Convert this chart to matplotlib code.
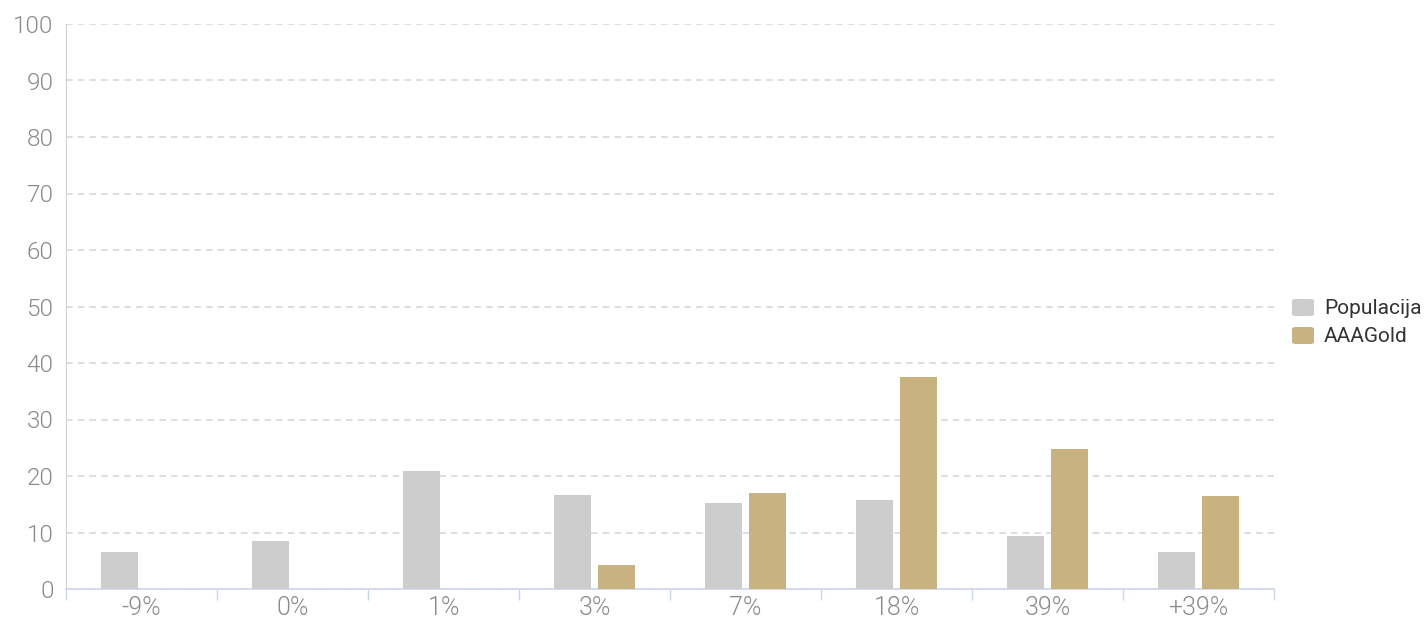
import matplotlib
matplotlib.use("Agg")
import matplotlib.pyplot as plt
import numpy as np
from matplotlib.patches import FancyBboxPatch

categories = ["-9%", "0%", "1%", "3%", "7%", "18%", "39%", "+39%"]
populacija = [6.5, 8.5, 20.9, 16.6, 15.2, 15.7, 9.4, 6.5]
aaagold = [0, 0, 0, 4.2, 17.0, 37.5, 24.8, 16.5]
series_names = ["Populacija", "AAAGold"]
colors = ["#cdcdcd", "#c8b380"]
yticks = list(range(0, 101, 10))

plt.rcParams['font.family'] = ['Roboto', 'DejaVu Sans']

W, H = 1426, 621
fig = plt.figure(figsize=(W / 100, H / 100), dpi=100)
ax = fig.add_axes([66 / W, (H - 589) / H, (1274 - 66) / W, (589 - 24) / H])

x = np.arange(len(categories))
bw = 0.245
off = 0.148
ax.bar(x - off, populacija, width=bw, color=colors[0], zorder=3)
ax.bar(x + off, aaagold, width=bw, color=colors[1], zorder=3)

ax.set_xlim(-0.5, len(categories) - 0.5)
ax.set_ylim(0, 100)
ax.set_yticks(yticks)
ax.set_yticklabels([str(t) for t in yticks], fontsize=17.5, color="#8a8a8a", fontweight=300)
ax.yaxis.grid(True, color="#d8d8d8", linestyle=(0, (4, 3)), linewidth=1.2, zorder=0)
ax.tick_params(axis="y", length=0, pad=9)

ax.set_xticks(x)
ax.set_xticklabels(categories, fontsize=18, color="#8a8a8a", fontweight=300)
ax.tick_params(axis="x", which="major", length=0, pad=5)
ax.set_xticks(np.arange(-0.5, len(categories)), minor=True)
ax.tick_params(axis="x", which="minor", length=8, color="#ccd6eb", width=1)

for s in ["top", "right"]:
    ax.spines[s].set_visible(False)
ax.spines["left"].set_color("#d0d0d0")
ax.spines["bottom"].set_color("#ccd6eb")
ax.spines["bottom"].set_linewidth(1.2)

# legend
for i, (name, c) in enumerate(zip(series_names, colors)):
    yc = 308 + i * 28
    p = FancyBboxPatch(((1292) / W, (H - yc - 8) / H), 22 / W, 17 / H,
                       boxstyle="round,pad=0,rounding_size=0.003",
                       transform=fig.transFigure, facecolor=c, edgecolor="none")
    fig.patches.append(p)
    fig.text(1324 / W, (H - yc) / H, name, fontsize=15, color="#333333",
             va="center", ha="left")

fig.savefig("out.png", dpi=100)
